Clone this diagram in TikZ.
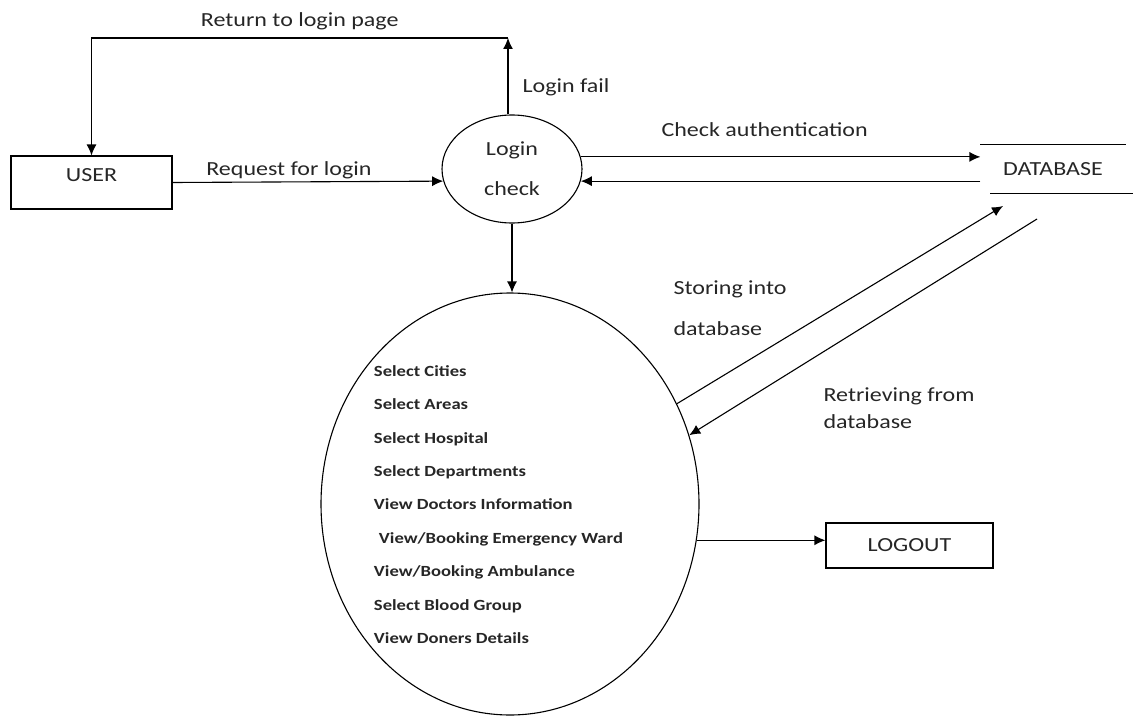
\documentclass[tikz,border=0pt]{standalone}
\usepackage{fontspec}
\setmainfont[FakeStretch=1.2]{Carlito}
\usetikzlibrary{shapes.geometric,arrows.meta}

\begin{document}
\begin{tikzpicture}[x=1pt,y=-1pt,line width=1.1pt,
    >={Latex[length=11pt,width=10pt]},
    every node/.style={font=\fontsize{20pt}{24pt}\selectfont,text=black!85},
    entity/.style={draw,rectangle,inner sep=0pt},
    process/.style={draw,ellipse,inner sep=0pt},
    lbl/.style={inner sep=2pt}]
  \useasboundingbox (0,0) rectangle (1133,717);

  % external entities and data store
  \node[entity,minimum width=161pt,minimum height=53pt,text depth=14pt] (user) at (91.5,182.5) {USER};
  \node[entity,minimum width=167pt,minimum height=45pt] (logout) at (909.5,545.5) {LOGOUT};
  \node[minimum width=144pt,minimum height=48pt,inner sep=0pt] (db) at (1053,169) {DATABASE};
  \draw (db.north west) -- (db.north east);
  \draw ([xshift=10pt]db.south west) -- ([xshift=8pt]db.south east);

  % processes
  \node[process,minimum width=140pt,minimum height=108pt,align=center] (login) at (512,169) {Login\\[16pt]check};
  \node[process,minimum width=378pt,minimum height=422pt] (sel) at (510,504) {};
  \node[font=\fontsize{15.5pt}{33.4pt}\selectfont\bfseries,align=left] (menu) at (498.5,504.5)
    {Select Cities\\Select Areas\\Select Hospital\\Select Departments\\View Doctors Information\\
     \hspace{5pt}View/Booking Emergency Ward\\View/Booking Ambulance\\Select Blood Group\\View Doners Details};

  \coordinate (fail) at (508,38);
  \coordinate (dbin) at (1003,206);
  \coordinate (dbout) at (1037,219);

  % flows
  \draw[->] (user.east) -- node[lbl,above,pos=0.43] (reqlbl) {Request for login} (login.190);
  \draw[->] (login.north -| fail) -- node[lbl,right=12pt,pos=0.36] (faillbl) {Login fail} (fail);
  \draw[->] (fail) -| node[lbl,above=6pt,pos=0.25] (retlbl) {Return to login page} (user.north);
  \draw[->] (login.10) -- node[lbl,above=18pt,pos=0.46] (authlbl) {Check authentication} (login.10 -| db.west);
  \draw[->] (login.-10 -| db.west) -- (login.-10);
  \draw[->] (login.south) -- (login.south |- sel.north);
  \draw[->] (sel.31) -- (dbin);
  \draw[->] (dbout) -- (sel.21.5);
  \draw[->] (sel.-11.5) -- (sel.-11.5 -| logout.west);

  \node[lbl,anchor=west,align=left,font=\fontsize{20pt}{41pt}\selectfont] (storelbl) at (671,308) {Storing into\\database};
  \node[lbl,anchor=west,align=left,font=\fontsize{20pt}{27pt}\selectfont] (fetchlbl) at (821,408) {Retrieving from\\database};
\end{tikzpicture}
\end{document}
